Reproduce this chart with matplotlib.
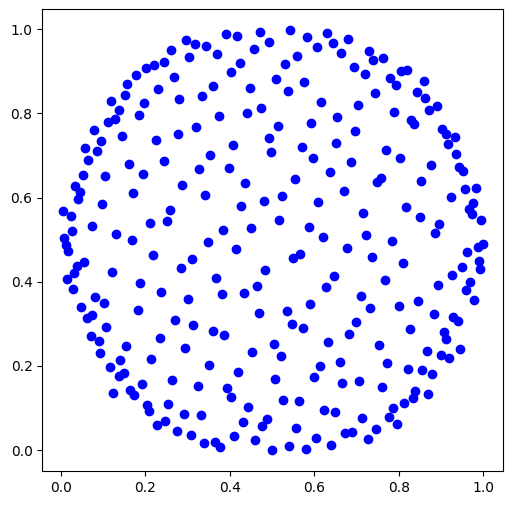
import numpy as np
import matplotlib
matplotlib.use('Agg')
import matplotlib.pyplot as plt

# points, grouped roughly by region (top, middle, bottom)
x_top = [0.2605, 0.2446, 0.2209, 0.2013, 0.2683, 0.1783, 0.1570, 0.2304, 0.1523, 0.1191,
         0.1973, 0.1380, 0.1847, 0.1279, 0.1120, 0.0789, 0.1452, 0.0954, 0.2257, 0.0575,
         0.0860, 0.0646, 0.2432,
         0.2967, 0.3180, 0.3434, 0.3038, 0.3694, 0.3907, 0.4168, 0.4719, 0.4933, 0.4577,
         0.5423, 0.5832, 0.6069, 0.6299, 0.6448, 0.4246, 0.4033, 0.5588, 0.5304, 0.3606,
         0.4483, 0.5098, 0.5761, 0.5382, 0.2794, 0.3346, 0.6157, 0.3749, 0.4412, 0.4743,
         0.6536, 0.2778, 0.3204, 0.5146, 0.5920, 0.4080, 0.4918, 0.4973, 0.5707, 0.6519,
         0.3535, 0.5974,
         0.6630, 0.6803, 0.7293, 0.7395, 0.7632, 0.6945, 0.7199, 0.7798, 0.8051, 0.8200,
         0.7940, 0.8596, 0.7435, 0.8437, 0.8627, 0.7040, 0.8897, 0.8721, 0.7885, 0.8295,
         0.8366, 0.6969, 0.9022, 0.9110, 0.9337, 0.9171, 0.7696, 0.8035, 0.9361]
y_top = [0.9500, 0.9230, 0.9144, 0.9080, 0.8860, 0.8910, 0.8690, 0.8580, 0.8430, 0.8290,
         0.8240, 0.8075, 0.7956, 0.7860, 0.7790, 0.7600, 0.7464, 0.7338, 0.7369, 0.7171,
         0.7100, 0.6886, 0.6862,
         0.9746, 0.9643, 0.9596, 0.9334, 0.9406, 0.9881, 0.9834, 0.9936, 0.9691, 0.9525,
         0.9983, 0.9810, 0.9572, 0.9905, 0.9667, 0.9192, 0.8978, 0.9358, 0.9168, 0.8652,
         0.8605, 0.8819, 0.8740, 0.8526, 0.8336, 0.8407, 0.8265, 0.7939, 0.8003, 0.8122,
         0.7915, 0.7504, 0.7670, 0.7694, 0.7773, 0.7250, 0.7409, 0.7083, 0.7195, 0.7297,
         0.7005, 0.6934,
         0.9430, 0.9769, 0.9477, 0.9270, 0.9318, 0.9104, 0.8930, 0.8842, 0.9002, 0.9025,
         0.8669, 0.8764, 0.8479, 0.8503, 0.8360, 0.8201, 0.8170, 0.8089, 0.8027, 0.7837,
         0.7742, 0.7576, 0.7623, 0.7519, 0.7433, 0.7266, 0.7124, 0.6948, 0.7029]

x_mid = [0.1617, 0.0528, 0.1042, 0.1942, 0.0339, 0.0457, 0.0410, 0.1705, 0.0978, 0.0054,
         0.0230, 0.2588, 0.2517, 0.2108, 0.0741, 0.0253, 0.1310, 0.1681, 0.0078, 0.0126,
         0.0173, 0.2179, 0.0552, 0.0379, 0.0315, 0.1215, 0.0149, 0.1878, 0.2368, 0.0291,
         0.0805, 0.1018, 0.0481, 0.1816, 0.0727,
         0.3268, 0.3985, 0.6377, 0.2872, 0.4357, 0.5548, 0.3417, 0.4270, 0.4807, 0.5233,
         0.6086, 0.5169, 0.3843, 0.4506, 0.5873, 0.6211, 0.3488, 0.4151, 0.5494, 0.5667,
         0.3109, 0.2849, 0.4838, 0.3677, 0.6472, 0.4648, 0.6282, 0.3014, 0.3820, 0.4340,
         0.5903, 0.4681, 0.5345,
         0.6867, 0.8762, 0.9417, 0.9526, 0.7570, 0.7490, 0.8532, 0.6708, 0.9574, 0.9834,
         0.9235, 0.9763, 0.9669, 0.9740, 0.9953, 0.7158, 0.8170, 0.8508, 0.8958, 0.8863,
         0.7222, 0.7845, 0.6780, 1.0000, 0.9867, 0.9621, 0.7372, 0.8106, 0.9898, 0.9922,
         0.9496, 0.9259, 0.7672, 0.9692, 0.9597, 0.8934, 0.7111, 0.7324, 0.8011, 0.8461,
         0.9787, 0.8833]
y_mid = [0.6791, 0.6530, 0.6506, 0.6560, 0.6275, 0.6126, 0.5959, 0.6102, 0.5840, 0.5674,
         0.5555, 0.5698, 0.5443, 0.5389, 0.5317, 0.5199, 0.5127, 0.4985, 0.5039, 0.4866,
         0.4730, 0.4628, 0.4462, 0.4381, 0.4200, 0.4224, 0.4065, 0.3962, 0.3749, 0.3827,
         0.3630, 0.3487, 0.3399, 0.3321, 0.3216,
         0.6672, 0.6703, 0.6601, 0.6292, 0.6340, 0.6435, 0.6054, 0.5793, 0.5926, 0.6030,
         0.5888, 0.5474, 0.5222, 0.5270, 0.5294, 0.5056, 0.4937, 0.4771, 0.4557, 0.4659,
         0.4533, 0.4326, 0.4271, 0.4081, 0.4129, 0.3891, 0.3867, 0.3582, 0.3701, 0.3725,
         0.3463, 0.3249, 0.3297,
         0.6834, 0.6774, 0.6734, 0.6625, 0.6465, 0.6363, 0.6387, 0.6164, 0.6197, 0.6221,
         0.6007, 0.5864, 0.5721, 0.5603, 0.5460, 0.5626, 0.5769, 0.5531, 0.5365, 0.5151,
         0.5103, 0.4961, 0.4794, 0.4890, 0.4818, 0.4699, 0.4595, 0.4438, 0.4493, 0.4295,
         0.4357, 0.4153, 0.4034, 0.3993, 0.3796, 0.3915, 0.3653, 0.3375, 0.3416, 0.3535,
         0.3558, 0.3226]

x_bot = [0.0616, 0.2700, 0.1066, 0.0703, 0.0893, 0.2344, 0.1546, 0.0916, 0.1404, 0.2131,
         0.1153, 0.1485, 0.1366, 0.2628, 0.1918, 0.1231, 0.1634, 0.1736, 0.2534, 0.2044,
         0.2091, 0.2470, 0.2273, 0.2740,
         0.3133, 0.3592, 0.3867, 0.5477, 0.5738, 0.2943, 0.4530, 0.5051, 0.5217, 0.6323,
         0.3512, 0.4198, 0.6140, 0.5998, 0.5075, 0.3251, 0.3938, 0.4018, 0.5264, 0.5643,
         0.4435, 0.2920, 0.3322, 0.6235, 0.6495, 0.4317, 0.4885, 0.4767, 0.5572, 0.3078,
         0.3379, 0.3654, 0.3772, 0.4104, 0.4594, 0.5004, 0.5406, 0.5809, 0.6046, 0.6401,
         0.9283, 0.9401, 0.6986, 0.6820, 0.8271, 0.9069, 0.9124, 0.7530, 0.8667, 0.8998,
         0.9195, 0.9448, 0.6607, 0.7727, 0.8224, 0.8555, 0.8792, 0.6654, 0.7057, 0.7608,
         0.8383, 0.8342, 0.8698, 0.8129, 0.7869, 0.7767, 0.7956, 0.7135, 0.7466, 0.6725,
         0.6898, 0.7277]
y_bot = [0.3131, 0.3090, 0.2924, 0.2703, 0.2584, 0.2655, 0.2465, 0.2299, 0.2132, 0.2156,
         0.1973, 0.1823, 0.1759, 0.1657, 0.1562, 0.1355, 0.1426, 0.1307, 0.1086, 0.1070,
         0.0920, 0.0682, 0.0587, 0.0452,
         0.2964, 0.2822, 0.2726, 0.2988, 0.2893, 0.2417, 0.2322, 0.2513, 0.2227, 0.2560,
         0.2013, 0.1847, 0.1990, 0.1728, 0.1681, 0.1514, 0.1467, 0.1253, 0.1181, 0.1158,
         0.1015, 0.0849, 0.0825, 0.0944, 0.0903, 0.0658, 0.0730, 0.0563, 0.0516, 0.0349,
         0.0159, 0.0190, 0.0064, 0.0326, 0.0231, 0.0000, 0.0088, 0.0024, 0.0278, 0.0112,
         0.3161, 0.3059, 0.3035, 0.2750, 0.2876, 0.2805, 0.2638, 0.2489, 0.2346, 0.2258,
         0.2180, 0.2401, 0.2085, 0.2061, 0.1918, 0.1894, 0.1807, 0.1593, 0.1633, 0.1490,
         0.1402, 0.1229, 0.1331, 0.1117, 0.0991, 0.0777, 0.0618, 0.0754, 0.0499, 0.0404,
         0.0428, 0.0254]

x = np.array(x_top + x_mid + x_bot)
y = np.array(y_top + y_mid + y_bot)

fig = plt.figure(figsize=(5.13, 5.05), dpi=100)
ax = fig.add_axes([42.3 / 513, 33.7 / 505, 461 / 513, 462 / 505])
ax.scatter(x, y, color='blue')
ax.set_xlim(-0.0443, 1.0474)
ax.set_ylim(-0.0506, 1.0475)

fig.savefig('out.png', dpi=100)
print(len(x), len(y))
